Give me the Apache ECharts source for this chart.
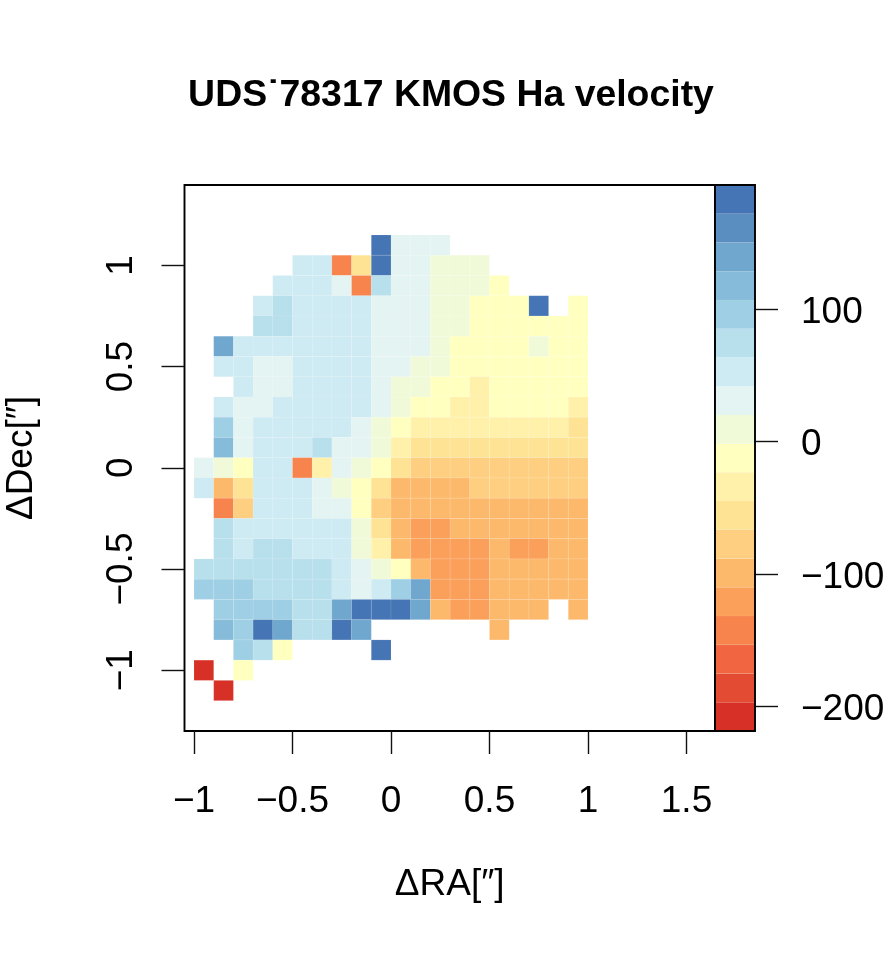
<!DOCTYPE html>
<html>
<head>
<meta charset="utf-8">
<style>html,body{margin:0;padding:0;background:#fff}#chart{width:886px;height:961px}</style>
<script src="https://cdn.jsdelivr.net/npm/echarts@6/dist/echarts.min.js"></script>
</head>
<body>
<div id="chart"></div>
<script>
const _ = null;

// Cell centres of the velocity map, in arcseconds.
const raCentres = [-0.95,-0.85,-0.75,-0.65,-0.55,-0.45,-0.35,-0.25,-0.15,-0.05,0.05,0.15,0.25,0.35,0.45,0.55,0.65,0.75,0.85,0.95];
const decCentres = [1.1,1.0,0.9,0.8,0.7,0.6,0.5,0.4,0.3,0.2,0.1,0.0,-0.1,-0.2,-0.3,-0.4,-0.5,-0.6,-0.7,-0.8,-0.9,-1.0,-1.1];

// Line-of-sight velocity per spaxel (km/s), one row per declination.
const velocityRows = [
  [_,_,_,_,_,_,_,_,_,183,31,31,31,_,_,_,_,_,_,_],
  [_,_,_,_,_,53,53,-143,-56,183,31,31,9,9,9,_,_,_,_,_],
  [_,_,_,_,53,53,53,31,-143,74,31,31,9,9,9,-12,_,_,_,_],
  [_,_,_,53,74,53,53,53,53,31,31,31,9,9,-12,-12,-12,183,_,-12],
  [_,_,_,74,74,53,53,53,53,31,31,31,9,9,-12,-12,-12,-12,-12,-12],
  [_,139,53,53,53,53,53,53,53,31,31,31,9,-12,-12,-12,-12,9,-12,-12],
  [_,53,53,31,31,53,53,53,53,31,31,9,9,-12,-12,-12,-12,-12,-12,-12],
  [_,_,53,31,31,53,53,53,53,31,9,9,-12,-12,-34,-12,-12,-12,-12,-12],
  [_,53,31,31,53,53,53,53,53,31,9,-12,-12,-34,-34,-12,-12,-12,-12,-34],
  [_,96,31,53,53,53,53,53,31,9,-12,-34,-34,-34,-34,-34,-34,-34,-34,-56],
  [_,118,31,53,53,53,74,31,31,9,-34,-56,-56,-56,-56,-56,-56,-56,-56,-56],
  [31,9,-12,53,53,-143,-34,31,9,-12,-56,-78,-78,-78,-78,-78,-78,-78,-78,-78],
  [53,-99,-56,53,53,53,31,9,-12,-56,-99,-99,-99,-99,-78,-78,-78,-78,-78,-78],
  [_,-143,-78,53,53,53,31,31,-12,-78,-99,-99,-99,-99,-99,-99,-99,-99,-99,-99],
  [_,74,53,53,53,53,53,53,9,-56,-99,-121,-121,-99,-99,-99,-99,-99,-99,-99],
  [_,74,53,74,74,53,53,53,9,-34,-99,-121,-121,-121,-121,-99,-121,-121,-99,-99],
  [74,74,74,74,74,74,74,53,31,9,-12,-99,-121,-121,-121,-99,-99,-99,-99,-99],
  [96,96,96,74,74,74,74,53,31,53,96,139,-121,-121,-121,-99,-99,-99,-99,-99],
  [_,96,96,96,96,74,74,139,183,183,183,139,-99,-121,-121,-99,-99,-99,_,-99],
  [_,118,96,183,139,74,74,183,139,_,_,_,_,_,_,-99,_,_,_,_],
  [_,_,96,74,-12,_,_,_,_,183,_,_,_,_,_,_,_,_,_,_],
  [-208,_,-12,_,_,_,_,_,_,_,_,_,_,_,_,_,_,_,_,_],
  [_,-208,_,_,_,_,_,_,_,_,_,_,_,_,_,_,_,_,_,_]
];

// Colour scale: band edges (km/s) and one colour per band, lowest first.
const colourBreaks = [-218.6,-196.9,-175.2,-153.5,-131.8,-110.1,-88.4,-66.7,-45,-23.3,-1.6,20.1,41.8,63.5,85.2,106.9,128.6,150.3,172,193.7];
const colourBands = ['#D73027','#E44B33','#F16640','#F7834D','#FBA05A','#FDB96B','#FECF80','#FEE395','#FFF1AA','#FFFFBF','#F1FAD8','#E3F4F2','#CEEAF3','#B7DFEC','#9FCFE4','#86BCD9','#6FA7CE','#5A8EC1','#4575B4'];

// Tick positions on the three axes.
const raTicks = [-1,-0.5,0,0.5,1,1.5];
const decTicks = [-1,-0.5,0,0.5,1];
const velocityTicks = [-200,-100,0,100];

const titleText = 'UDS\u02D978317 KMOS Ha velocity';
const raTitle = '\u0394RA[\u2033]';
const decTitle = '\u0394Dec[\u2033]';

const FONT = '"Liberation Sans", Arial, Helvetica, sans-serif';
const INK = '#000';
const CELL_W = 0.1, CELL_H = 0.1;
const withMinus = v => String(v).replace('-', '\u2212');

const cells = [];
decCentres.forEach((dec, r) => raCentres.forEach((ra, c) => {
  const v = velocityRows[r][c];
  if (v !== null) cells.push([ra, dec, v]);
}));
const bands = colourBands.map((_c, i) => [0, colourBreaks[i], colourBreaks[i + 1]]);

const chart = echarts.init(document.getElementById('chart'), null, { renderer: 'canvas' });

const tickStyle = { color: '#111', width: 1.4 };
const labelStyle = { color: INK, fontFamily: FONT, fontSize: 37 };
const nameStyle = { color: INK, fontFamily: FONT, fontSize: 37 };

chart.setOption({
  animation: false,
  backgroundColor: '#fff',
  title: {
    text: titleText,
    left: 446,
    top: 72,
    textAlign: 'center',
    textStyle: { color: INK, fontFamily: FONT, fontWeight: 'bold', fontSize: 37.4 }
  },
  grid: [
    { left: 184.5, top: 185, width: 530.5, height: 546, show: true, borderColor: INK, borderWidth: 1.9, backgroundColor: '#fff', outerBoundsMode: 'none', containLabel: false },
    { left: 715, top: 185, width: 40, height: 546, show: true, borderColor: INK, borderWidth: 1.9, backgroundColor: 'transparent', z: 5, outerBoundsMode: 'none', containLabel: false }
  ],
  xAxis: [
    {
      type: 'value', gridIndex: 0, position: 'bottom',
      min: -1.0482, max: 1.6447, splitLine: { show: false },
      axisLine: { show: false, onZero: false },
      axisTick: { show: true, customValues: raTicks, length: 23, lineStyle: tickStyle },
      axisLabel: { show: true, customValues: raTicks, formatter: withMinus, margin: 52.5, ...labelStyle },
      name: raTitle, nameLocation: 'middle', nameGap: 135, nameTextStyle: nameStyle
    },
    {
      type: 'value', gridIndex: 1, min: 0, max: 1, show: false
    }
  ],
  yAxis: [
    {
      type: 'value', gridIndex: 0, position: 'left',
      min: -1.3, max: 1.397, splitLine: { show: false },
      axisLine: { show: false, onZero: false },
      axisTick: { show: true, customValues: decTicks, length: 23, lineStyle: tickStyle },
      axisLabel: { show: true, customValues: decTicks, formatter: withMinus, rotate: 90, margin: 44, ...labelStyle },
      name: decTitle, nameLocation: 'middle', nameGap: 144, nameRotate: 90, nameTextStyle: nameStyle
    },
    {
      type: 'value', gridIndex: 1, position: 'right',
      min: colourBreaks[0], max: colourBreaks[colourBreaks.length - 1], splitLine: { show: false },
      axisLine: { show: false, onZero: false },
      axisTick: { show: true, customValues: velocityTicks, length: 23, lineStyle: tickStyle },
      axisLabel: { show: true, customValues: velocityTicks, formatter: withMinus, margin: 46, align: 'left', verticalAlign: 'top', lineHeight: 7, ...labelStyle }
    }
  ],
  visualMap: {
    type: 'piecewise', show: false, seriesIndex: 0, dimension: 2,
    pieces: colourBands.map((color, i) => ({ min: colourBreaks[i], max: colourBreaks[i + 1], color }))
  },
  series: [
    {
      name: 'velocity map', type: 'custom', xAxisIndex: 0, yAxisIndex: 0,
      encode: { x: 0, y: 1 }, data: cells,
      renderItem(params, api) {
        const ra = api.value(0), dec = api.value(1);
        const a = api.coord([ra - CELL_W / 2, dec + CELL_H / 2]);
        const b = api.coord([ra + CELL_W / 2, dec - CELL_H / 2]);
        return {
          type: 'rect',
          shape: { x: a[0], y: a[1], width: b[0] - a[0], height: b[1] - a[1] },
          style: { fill: api.visual('color'), stroke: 'rgba(255,255,255,0.14)', lineWidth: 0.7 }
        };
      }
    },
    {
      name: 'colour bar', type: 'custom', xAxisIndex: 1, yAxisIndex: 1,
      encode: { y: [1, 2] }, data: bands, z: 1,
      renderItem(params, api) {
        const a = api.coord([0, api.value(2)]);
        const b = api.coord([1, api.value(1)]);
        return {
          type: 'rect',
          shape: { x: a[0], y: a[1], width: b[0] - a[0], height: b[1] - a[1] },
          style: { fill: colourBands[params.dataIndex], stroke: 'rgba(255,255,255,0.12)', lineWidth: 0.5 }
        };
      }
    }
  ]
});
</script>
</body>
</html>
